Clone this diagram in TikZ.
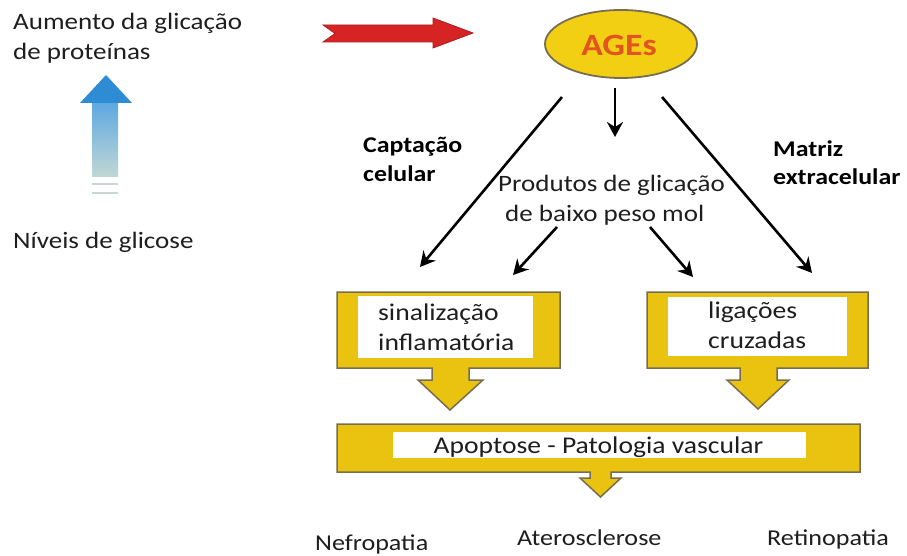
\documentclass[tikz,border=0pt]{standalone}
\usepackage{fontspec}
\setmainfont[FakeStretch=1.15]{Carlito}
\usetikzlibrary{arrows.meta,shapes.geometric}
\definecolor{boxyellow}{RGB}{234,194,16}
\definecolor{ellyellow}{RGB}{243,207,20}
\definecolor{edgegray}{RGB}{118,110,80}
\definecolor{agesred}{RGB}{226,84,32}
\definecolor{redarrow}{RGB}{214,36,36}
\definecolor{rededge}{RGB}{175,30,30}
\definecolor{txt}{RGB}{30,30,30}
\definecolor{blueA}{RGB}{95,168,225}
\definecolor{blueB}{RGB}{150,195,218}
\definecolor{blueC}{RGB}{192,216,212}
\definecolor{bluehead}{RGB}{45,140,212}
\definecolor{dashcol}{RGB}{200,215,212}
\begin{document}
\begin{tikzpicture}[x=1pt,y=-1pt,
  lbl/.style={anchor=base west, inner sep=0pt, text=txt, font=\fontsize{23.5}{28}\selectfont},
  blbl/.style={anchor=base west, inner sep=0pt, text=black, font=\fontsize{22.5}{27}\selectfont\bfseries},
  boxlbl/.style={anchor=base west, inner sep=0pt, text=txt, font=\fontsize{24}{28}\selectfont},
  endlbl/.style={anchor=base west, inner sep=0pt, text=txt, font=\fontsize{22.7}{27}\selectfont},
  conn/.style={draw=black, line width=2.6pt, -{Stealth[length=15pt,width=16pt,inset=5pt]}},
  yshape/.style={fill=boxyellow, draw=edgegray, line width=1.5pt, line join=miter},
  whitebox/.style={fill=white, draw=none, inner sep=0pt}]
\useasboundingbox (0,0) rectangle (907,556);

% left texts
\node (aum1) [lbl] at (13,30) {Aumento da glicação};
\node (aum2) [lbl] at (13,60) {de proteínas};
\node (niv) [lbl] at (13,248) {Níveis de glicose};

% blue arrow
\shade[top color=blueA, middle color=blueB, bottom color=blueC] (92,103) rectangle (118,177);
\fill[bluehead] (80,103) -- (106,75) -- (132,103) -- cycle;
\draw[dashcol, line width=2.5pt] (92,184) -- (118,184);
\draw[dashcol, line width=2.5pt] (92,193) -- (118,193);

% red arrow
\filldraw[fill=redarrow, draw=rededge, line width=0.8pt, line join=miter]
  (323,25) -- (433,25) -- (433,18) -- (473,33) -- (433,48) -- (433,42) -- (323,42) -- (335,33.5) -- cycle;

% AGEs ellipse
\node (ages) [ellipse, minimum width=152pt, minimum height=68pt, fill=ellyellow, draw=edgegray, line width=1.8pt, inner sep=0pt] at (621,44) {};
\node (agestxt) [anchor=base, inner sep=0pt, text=agesred, font=\fontsize{31}{33}\selectfont\bfseries] at (619,56) {AGEs};

% labels
\node (cap1) [blbl] at (363,153) {Captação};
\node (cap2) [blbl] at (363,182) {celular};
\node (mat1) [blbl] at (773,157) {Matriz};
\node (mat2) [blbl] at (773,185) {extracelular};
\node (prod1) [lbl] at (498,192) {Produtos de glicação};
\node (prod2) [lbl] at (505,222) {de baixo peso mol};

% connectors
\coordinate (aL) at (562,97);  \coordinate (tL) at (420,267);
\coordinate (aM) at (615,88);  \coordinate (tM) at (615,137);
\coordinate (aR) at (662,97);  \coordinate (tR) at (812,273);
\coordinate (pL) at (557,227); \coordinate (qL) at (513,275);
\coordinate (pR) at (650,227); \coordinate (qR) at (693,277);
\draw[conn] (aL) -- (tL);
\draw[conn] (aM) -- (tM);
\draw[conn] (aR) -- (tR);
\draw[conn] (pL) -- (qL);
\draw[conn] (pR) -- (qR);

% left box
\path[yshape] (337,292) -- (560,292) -- (560,368) -- (469,368) -- (469,380) -- (483,380)
  -- (450,410) -- (418,380) -- (432,380) -- (432,368) -- (337,368) -- cycle;
\node (sinw) [whitebox, minimum width=175pt, minimum height=62pt] at (445.5,326.5) {};
\node (sin1) [boxlbl] at (378,320) {sinalização};
\node (sin2) [boxlbl] at (378,350) {inflamatória};

% right box
\path[yshape] (647,292) -- (868,292) -- (868,368) -- (777,368) -- (777,380) -- (789,380)
  -- (758,409) -- (727,380) -- (740,380) -- (740,368) -- (647,368) -- cycle;
\node (ligw) [whitebox, minimum width=179pt, minimum height=59pt] at (757.5,326.5) {};
\node (lig1) [boxlbl] at (708,318) {ligações};
\node (lig2) [boxlbl] at (708,348) {cruzadas};

% bottom box
\path[yshape] (337,424) -- (860,424) -- (860,472) -- (611,472) -- (611,478) -- (621,478)
  -- (600.5,497) -- (580,478) -- (590,478) -- (590,472) -- (337,472) -- cycle;
\node (apw) [whitebox, minimum width=413pt, minimum height=26pt] at (599.5,445) {};
\node (ap) [boxlbl, anchor=base] at (598.5,453) {Apoptose - Patologia vascular};

% outcomes
\node (nef) [endlbl] at (315,550) {Nefropatia};
\node (ate) [endlbl] at (517,545) {Aterosclerose};
\node (ret) [endlbl] at (767,545) {Retinopatia};
\end{tikzpicture}
\end{document}
